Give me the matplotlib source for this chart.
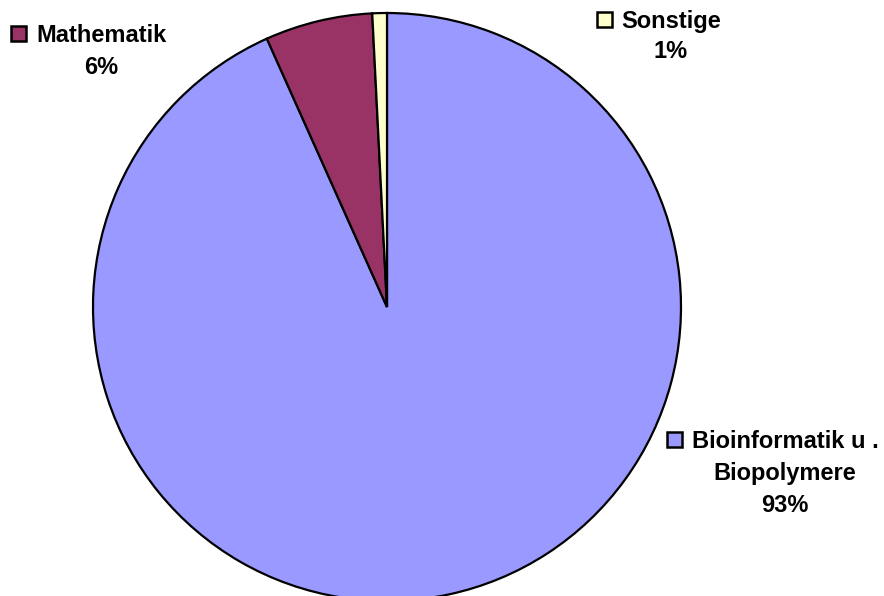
import matplotlib
matplotlib.use("Agg")
import matplotlib.pyplot as plt
from matplotlib.patches import Rectangle

# data
categories = ["Bioinformatik u . Biopolymere", "Mathematik", "Sonstige"]
shares = [93.3, 5.9, 0.8]
colors = ["#9999FF", "#993366", "#FFFFCC"]

W, H = 884, 596
fig = plt.figure(figsize=(W / 100, H / 100), dpi=100)
ax = fig.add_axes([0, 0, 1, 1])

# pie geometry in pixels: centre (387, 307), radius 294
cx, cy, r = 387, 307, 294
ax.pie(shares, colors=colors, startangle=90, counterclock=False,
       radius=1, center=(0, 0),
       wedgeprops=dict(edgecolor="black", linewidth=1.6))
ax.set_xlim(-cx / r, (W - cx) / r)
ax.set_ylim(-(H - cy) / r, cy / r)
ax.set_aspect("auto")
ax.axis("off")

font = dict(family=["Liberation Sans", "DejaVu Sans"], fontsize=17,
            fontweight="bold", color="black")


def fx(x):
    return x / W


def fy(y):
    return 1 - y / H


def label(idx, lines, xc, baselines, square):
    pct = "%d%%" % round(shares[idx])
    for txt, yb in zip(lines + [pct], baselines):
        fig.text(fx(xc), fy(yb), txt, ha="center", va="baseline", **font)
    sx, sy, s = square
    fig.add_artist(Rectangle((fx(sx), fy(sy + s)), s / W, s / H,
                             transform=fig.transFigure,
                             facecolor=colors[idx], edgecolor="black",
                             linewidth=1.8))


label(1, ["Mathematik"], 101, [42, 74], (11, 26, 15))
label(2, ["Sonstige"], 671, [28, 58], (597, 12, 15))
label(0, ["Bioinformatik u .", "Biopolymere"], 785, [448, 480, 512],
      (667, 432, 15))

fig.savefig("out.png", dpi=100)
